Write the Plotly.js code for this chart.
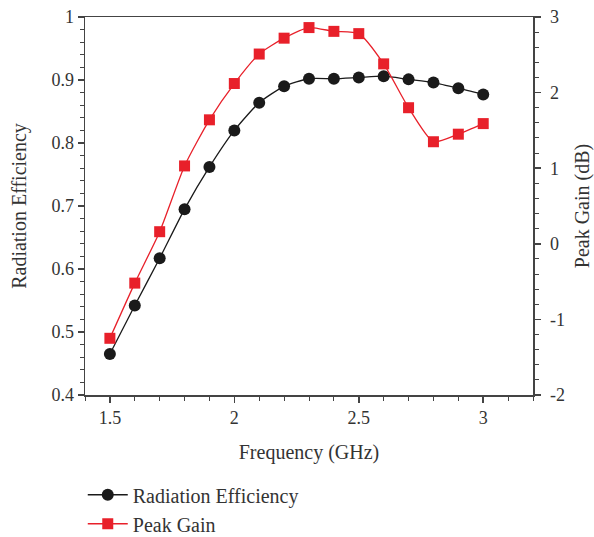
<!DOCTYPE html>
<html><head><meta charset="utf-8">
<script src="https://cdn.plot.ly/plotly-3.0.1.min.js"></script>
<style>body{margin:0;background:#fff}#c{width:594px;height:537px}</style>
</head><body><div id="c"></div>
<script>
const freq = [1.5,1.6,1.7,1.8,1.9,2.0,2.1,2.2,2.3,2.4,2.5,2.6,2.7,2.8,2.9,3.0];
const radEff = [0.465,0.542,0.617,0.695,0.762,0.820,0.864,0.890,0.902,0.902,0.904,0.906,0.901,0.896,0.887,0.877];
const peakGain = [-1.25,-0.52,0.16,1.03,1.64,2.12,2.51,2.72,2.86,2.81,2.78,2.38,1.80,1.35,1.45,1.59];

const fam = '"Liberation Serif", "DejaVu Serif", serif';
const tickFont = {family:fam, size:18, color:'#333'};
const titleFont = {family:fam, size:20, color:'#333'};
const axCol = '#444';
const traces = [
  {x:freq, y:radEff, name:'Radiation Efficiency', mode:'lines+markers', yaxis:'y',
   line:{color:'#1a1a1a', width:1.3, shape:'spline', smoothing:0.6},
   marker:{symbol:'circle', size:12, color:'#1a1a1a'}},
  {x:freq, y:peakGain, name:'Peak Gain', mode:'lines+markers', yaxis:'y2',
   line:{color:'#e8202a', width:1.3, shape:'spline', smoothing:0.6},
   marker:{symbol:'square', size:11, color:'#e8202a'}}
];
const layout = {
  width:594, height:537, font:tickFont, showlegend:true,
  paper_bgcolor:'#fff', plot_bgcolor:'#fff',
  margin:{l:85, r:61, t:17, b:142},
  xaxis:{range:[1.4,3.2], tickvals:[1.5,2,2.5,3], ticktext:['1.5','2','2.5','3'], automargin:false,
    showgrid:false, zeroline:false, showline:true, linecolor:axCol, linewidth:1.5, mirror:true,
    ticks:'outside', ticklen:6, tickwidth:1.5, tickcolor:axCol, tickfont:tickFont,
    minor:{dtick:0.1, tick0:1.4, ticks:'outside', ticklen:4, tickwidth:1, tickcolor:axCol},
    title:{text:'Frequency (GHz)', font:titleFont, standoff:18}},
  yaxis:{range:[0.4,1], tickvals:[0.4,0.5,0.6,0.7,0.8,0.9,1], ticktext:['0.4','0.5','0.6','0.7','0.8','0.9','1'], automargin:false,
    showgrid:false, zeroline:false, showline:true, linecolor:axCol, linewidth:1.5,
    ticks:'outside', ticklen:6, tickwidth:1.5, tickcolor:axCol, tickfont:tickFont,
    minor:{dtick:0.02, tick0:0.4, ticks:'outside', ticklen:4, tickwidth:1, tickcolor:axCol},
    title:{text:'Radiation Efficiency', font:titleFont, standoff:19}},
  yaxis2:{range:[-2,3], overlaying:'y', side:'right', tickvals:[-2,-1,0,1,2,3], ticktext:['-2','-1','0','1','2','3'], automargin:false,
    showgrid:false, zeroline:false, showline:true, linecolor:axCol, linewidth:1.5,
    ticks:'outside', ticklen:6, tickwidth:1.5, tickcolor:axCol, tickfont:tickFont, ticklabelstandoff:6,
    minor:{dtick:0.2, tick0:-2, ticks:'outside', ticklen:4, tickwidth:1, tickcolor:axCol},
    title:{text:'Peak Gain (dB)', font:titleFont, standoff:14}},
  legend:{xref:'paper', yref:'container', x:-0.005, y:0.115, xanchor:'left', yanchor:'top', orientation:'v', font:titleFont,
    bgcolor:'rgba(0,0,0,0)', tracegroupgap:0, itemwidth:40}
};
Plotly.newPlot('c', traces, layout, {staticPlot:true});
</script></body></html>
